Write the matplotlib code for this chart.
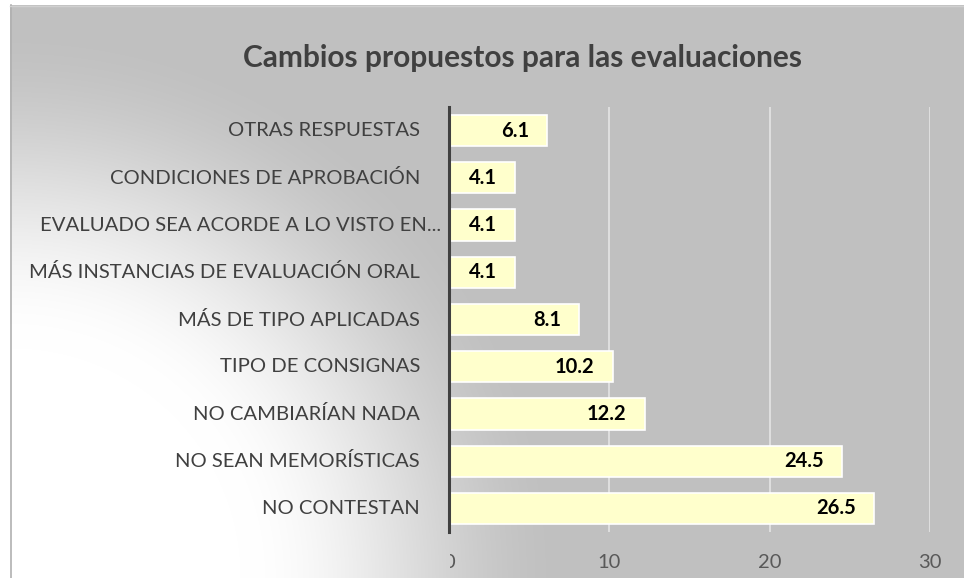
import numpy as np
import matplotlib
matplotlib.use("Agg")
import matplotlib.pyplot as plt
from matplotlib.transforms import offset_copy, Bbox

categories = ["OTRAS RESPUESTAS", "CONDICIONES DE APROBACIÓN",
              "EVALUADO SEA ACORDE A LO VISTO EN...",
              "MÁS INSTANCIAS DE EVALUACIÓN ORAL", "MÁS DE TIPO APLICADAS",
              "TIPO DE CONSIGNAS", "NO CAMBIARÍAN NADA",
              "NO SEAN MEMORÍSTICAS", "NO CONTESTAN"]
values = [6.1, 4.1, 4.1, 4.1, 8.1, 10.2, 12.2, 24.5, 26.5]
xticks = [0, 10, 20, 30]
title = "Cambios propuestos para las evaluaciones"

W, H = 964, 578
DPI = 100
plt.rcParams['font.family'] = ['Lato', 'DejaVu Sans']

fig = plt.figure(figsize=(W / DPI, H / DPI), dpi=DPI)
fig.patch.set_facecolor('white')

# background gradient (chart area from x=10, y=5)
bg = fig.add_axes([10 / W, 0, 1 - 10 / W, 1 - 5 / H])
bg.set_axis_off()
xs = np.arange(10, W)
ys = np.arange(5, H)
X, Y = np.meshgrid(xs, ys)
d = np.hypot(X - 10, Y - 578)
t = np.clip((d - 230) / (560 - 230), 0, 1)
t = t * t * (3 - 2 * t)
g = (255 - t * (255 - 192)) / 255.0
img = np.dstack([g, g, g])
bg.imshow(img, aspect='auto', extent=[0, 1, 0, 1], interpolation='bilinear')
bg.set_xlim(0, 1); bg.set_ylim(0, 1)
# chart border
fig.add_artist(plt.Line2D([10.5 / W, 10.5 / W], [0, 1 - 5 / H], color='#b0b0b0', lw=1.2))
fig.add_artist(plt.Line2D([10 / W, 1], [1 - 5.5 / H, 1 - 5.5 / H], color='#d0d0d0', lw=1.0))

left, right, top, bottom = 449, 930, 107, 532
ax = fig.add_axes([left / W, 1 - bottom / H, (right - left) / W, (bottom - top) / H])
ax.patch.set_alpha(0)
n = len(categories)
ypos = np.arange(n)
ax.barh(ypos, values, height=0.66, color='#ffffcc', edgecolor='white', linewidth=1.2, zorder=3)
ax.set_xlim(0, 30)
ax.set_ylim(n - 0.5, -0.5)
ax.set_xticks(xticks)
ax.set_xticklabels([str(v) for v in xticks])
ax.set_yticks([])
for s in ['top', 'right', 'bottom']:
    ax.spines[s].set_visible(False)
ax.spines['left'].set_color('#404040')
ax.spines['left'].set_linewidth(2.2)
ax.spines['left'].set_zorder(4)
ax.grid(axis='x', color='#e2e2e2', linewidth=1.3, zorder=1)
ax.tick_params(axis='x', length=0, pad=16, labelsize=14.5, labelcolor='#595959')

# clip the "0" label as in the reference
fig.canvas.draw()
lab0 = ax.get_xticklabels()[0]
lab0.set_clip_box(Bbox.from_extents(left + 1, 0, W, H))
lab0.set_clip_on(True)

# category labels
ytr = ax.get_yaxis_transform()
for i, c in enumerate(categories):
    off = -29 if not c.endswith("...") else -8
    ax.text(0, i, c, transform=offset_copy(ytr, fig=fig, x=off, units='dots'),
            ha='right', va='center', fontsize=14.6, color='#404040')

# value labels
for i, v in enumerate(values):
    ax.text(v, i, f"{v:.1f}", transform=offset_copy(ax.transData, fig=fig, x=-18, units='dots'),
            ha='right', va='center', fontsize=14.5, fontweight='bold', color='black', zorder=5)

fig.text(522.5 / W, 1 - 58 / H, title, ha='center', va='center', fontsize=21.5,
         fontweight='bold', color='#404040')

fig.savefig('out.png', dpi=DPI)
